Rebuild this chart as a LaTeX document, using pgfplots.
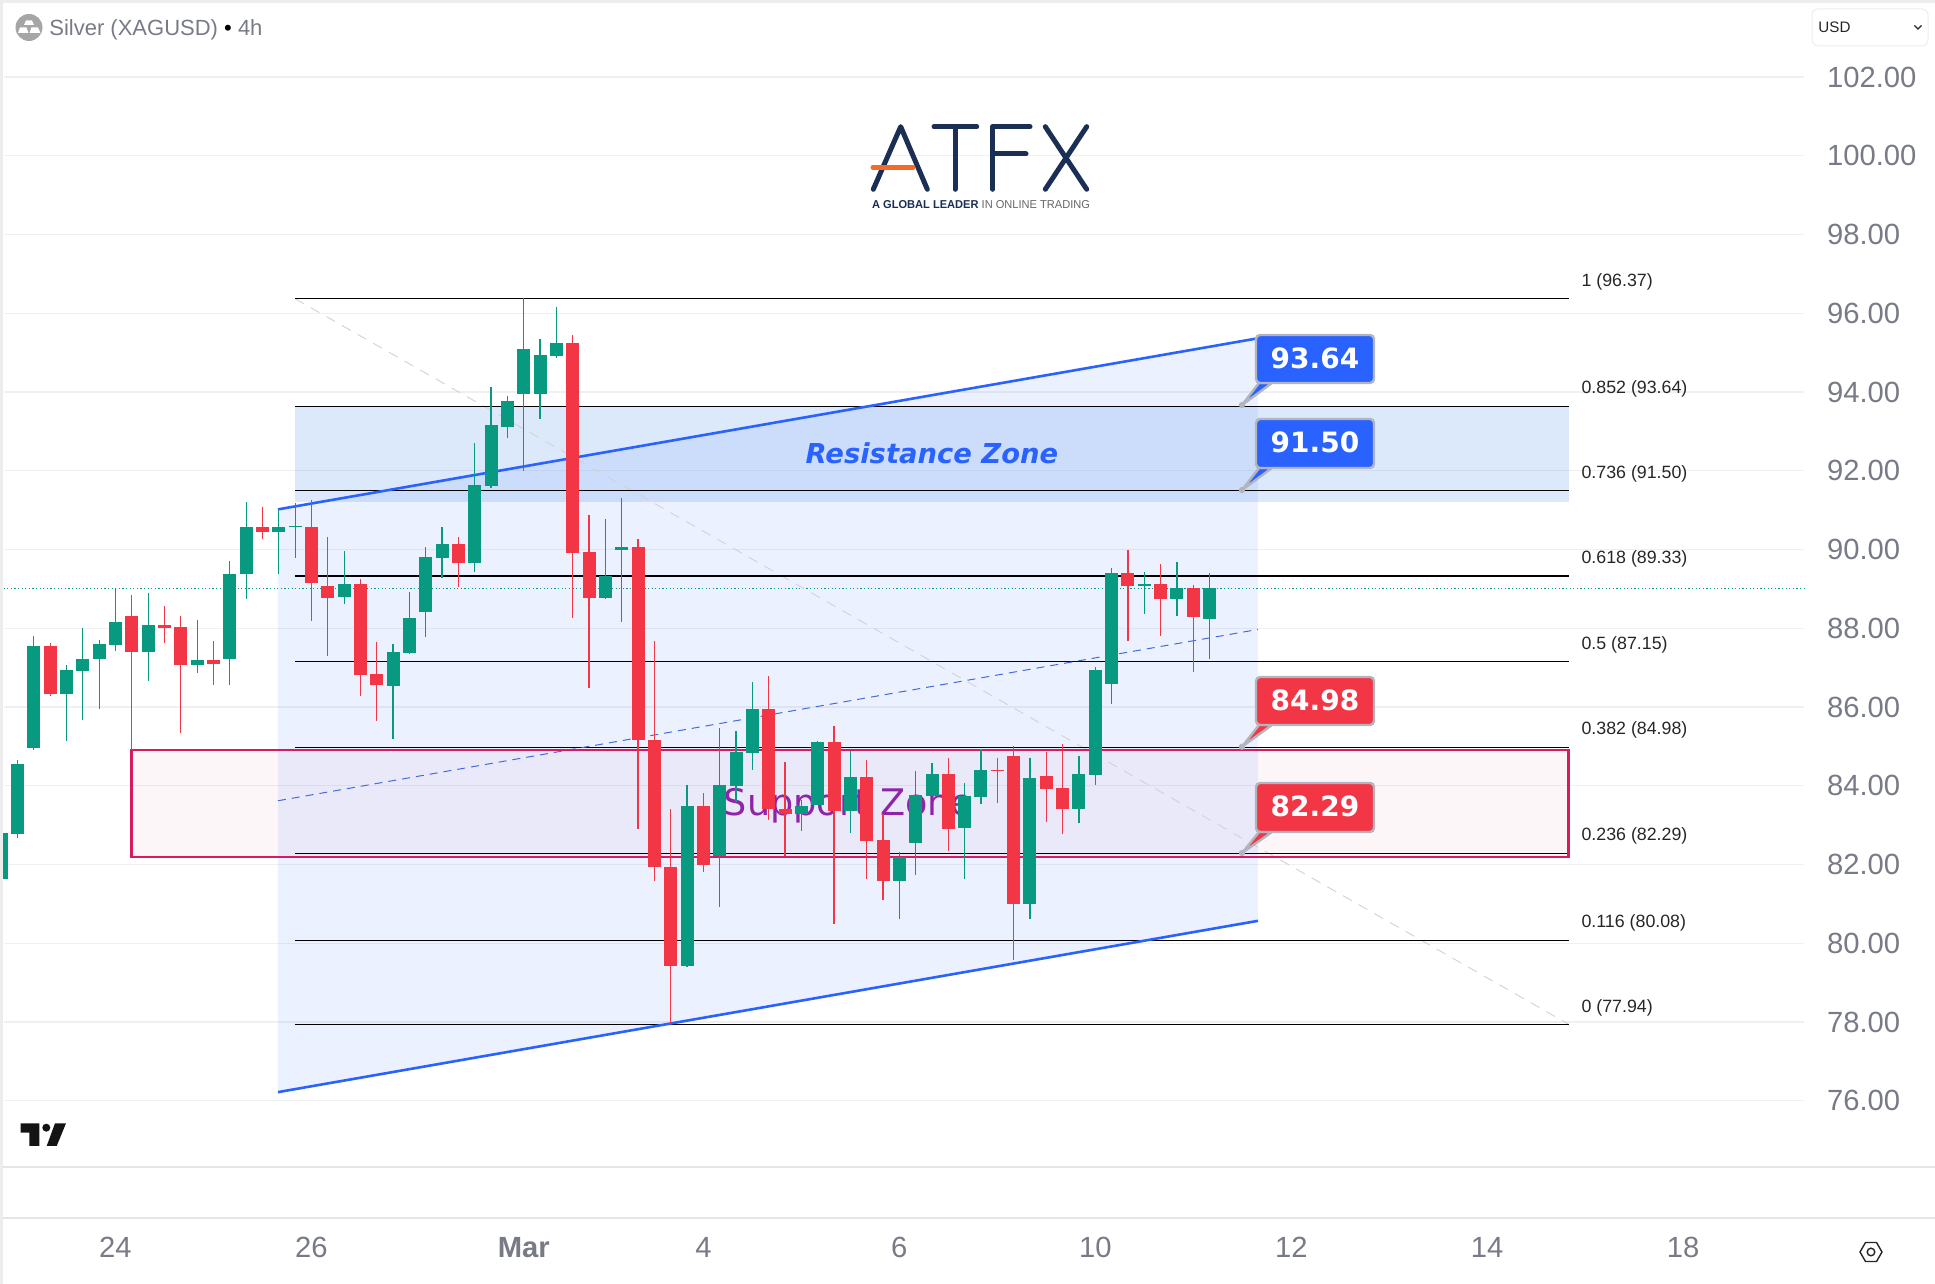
\documentclass[border=0pt]{standalone}
\usepackage{fontspec}
\setmainfont{Liberation Sans}
\newfontfamily\djv{DejaVu Sans}
\usepackage{pgfplots}
\usepackage{pgfplotstable}
\pgfplotsset{compat=1.18}
\definecolor{cgreen}{HTML}{089981}
\definecolor{cred}{HTML}{F23645}
\definecolor{cblue}{HTML}{2962FF}
\definecolor{gridc}{HTML}{F0F0F2}
\definecolor{tickgray}{HTML}{787B86}
\definecolor{calgray}{HTML}{B2B5BE}
\definecolor{navy}{HTML}{1B2F55}
\definecolor{pinkb}{HTML}{D81B60}
\definecolor{purp}{HTML}{8E24AA}
\pgfplotstableread{
i  wh    wl    bt    bb
-1 82.85 81.55 82.80 81.64
0  84.65 82.68 84.55 82.78
1  87.80 84.91 87.55 84.97
3  87.06 85.15 86.94 86.33
4  88.00 85.67 87.22 86.92
5  87.70 85.96 87.60 87.22
6  89.01 87.42 88.16 87.58
8  88.90 86.67 88.08 87.40
11 88.21 86.87 87.19 87.07
13 89.71 86.56 89.38 87.22
14 91.21 88.74 90.57 89.38
16 91.02 89.38 90.57 90.45
17 91.17 89.79 90.59 90.56
20 89.96 88.62 89.12 88.79
23 87.60 85.19 87.40 86.53
24 88.92 87.35 88.26 87.37
25 90.06 87.78 89.81 88.41
26 90.57 89.28 90.14 89.79
28 92.71 89.43 91.64 89.66
29 94.13 91.56 93.16 91.61
30 93.90 92.83 93.77 93.11
31 96.38 91.99 95.09 93.95
32 95.35 93.32 94.94 93.95
33 96.16 94.86 95.25 94.92
36 90.78 88.74 89.33 88.77
37 91.31 88.16 90.06 89.99
41 84.02 79.40 83.49 79.43
43 85.47 80.91 84.02 82.22
44 85.38 83.60 84.86 83.99
45 86.64 84.39 85.95 84.84
48 83.63 82.84 83.49 83.29
49 85.15 83.50 85.11 83.52
51 84.89 82.79 84.23 83.36
54 82.32 80.62 82.20 81.57
55 84.38 81.73 83.77 82.55
56 84.58 83.74 84.30 83.74
58 84.07 81.63 83.74 82.93
59 84.93 83.54 84.40 83.72
62 84.71 80.62 84.20 81.00
65 84.76 83.06 84.30 83.41
66 87.02 84.02 86.94 84.27
67 89.53 86.08 89.40 86.59
69 89.43 88.36 89.12 89.08
71 89.68 88.31 89.02 88.74
73 89.40 87.22 89.02 88.24
}\greentable
\pgfplotstableread{
i  wh    wl    bt    bb
2  87.62 86.28 87.55 86.33
7  88.85 84.90 88.31 87.40
9  88.57 87.63 88.08 88.01
10 88.31 85.35 88.03 87.07
12 87.68 86.56 87.19 87.09
15 91.08 90.27 90.57 90.45
18 91.26 88.19 90.57 89.15
19 90.32 87.30 89.07 88.77
21 89.25 86.28 89.12 86.81
22 87.65 85.65 86.84 86.56
27 90.32 89.05 90.14 89.66
34 95.45 88.26 95.25 89.91
35 90.88 86.48 89.94 88.77
38 90.27 82.91 90.07 85.16
39 87.68 81.59 85.16 81.94
40 83.40 77.94 81.94 79.43
42 83.81 81.82 83.49 81.99
46 86.79 83.14 85.95 83.42
47 84.61 82.22 83.40 83.29
50 85.52 80.48 85.11 83.36
52 84.66 81.64 84.23 82.61
53 83.28 81.11 82.63 81.57
57 84.71 82.34 84.30 82.90
60 84.71 83.56 84.40 84.37
61 85.01 79.58 84.76 81.00
63 84.86 83.08 84.25 83.92
64 85.06 82.78 83.94 83.41
68 89.99 87.68 89.40 89.07
70 89.63 87.80 89.12 88.74
72 89.10 86.89 89.02 88.29
}\redtable
\newcommand\candles[2]{%
 \addplot[draw=none,no markers,forget plot,error bars/.cd,y dir=minus,y explicit,error mark=none,
   error bar style={solid,draw=#2,line width=0.6pt}]
   table[x=i,y=wh,y error minus expr=\thisrow{wh}-\thisrow{wl}]{#1};
 \addplot[draw=none,no markers,forget plot,error bars/.cd,y dir=minus,y explicit,error mark=none,
   error bar style={solid,draw=#2,line width=6.5pt}]
   table[x=i,y=bt,y error minus expr=\thisrow{bt}-\thisrow{bb}]{#1};
}
\newcommand\fiblab[2]{\node[anchor=west,inner sep=0pt,font=\fontsize{8.9}{9}\selectfont,text=black!85] at (axis cs:95.75,#1+0.43) {#2};}
\newcommand\callout[5]{%
 \filldraw[draw=calgray,fill=#3,line width=1.2pt,line join=round] (1259,#2) -- (1272,#2) -- (1242,#5) -- cycle;
 \fill[calgray] (1242,#5) circle (3.2);
 \filldraw[draw=calgray,fill=#3,line width=1.2pt,rounded corners=2pt] (1256,#1) rectangle (1374,#2);
 \node[text=white,inner sep=0pt,font=\djv\bfseries\fontsize{14}{14}\selectfont] at (1315,{(#1+#2)/2-1}) {#4};
}
\begin{document}
\begin{tikzpicture}
\useasboundingbox (0,0) rectangle (967.5pt,642pt);
\begin{axis}[
 at={(0,0)},anchor=south west,scale only axis,width=967.5pt,height=642pt,
 xmin=-1.0716,xmax=117.42,ymin=71.347,ymax=103.957,
 axis x line*=bottom,axis y line*=right,
 axis line style={draw=none},major tick length=0pt,
 ytick={76,78,...,102},
 xtick={6,18,31,42,54,66,78,90,102},
 xticklabels={24,26,\textbf{Mar},4,6,10,12,14,18},
 tick label style={font=\fontsize{14.6}{15}\selectfont,text=tickgray},
 yticklabel style={anchor=west,xshift=-57.5pt,/pgf/number format/.cd,fixed,fixed zerofill,precision=2,assume math mode=true},
 xticklabel style={anchor=center,yshift=18.2pt},
 clip=true,
 unbounded coords=jump,
]
% grid
\addplot[gridc,line width=0.6pt,forget plot] coordinates {
 (-0.8,76)(109.4,76)(0,nan) (-0.8,78)(109.4,78)(0,nan) (-0.8,80)(109.4,80)(0,nan) (-0.8,82)(109.4,82)(0,nan)
 (-0.8,84)(109.4,84)(0,nan) (-0.8,86)(109.4,86)(0,nan) (-0.8,88)(109.4,88)(0,nan) (-0.8,90)(109.4,90)(0,nan)
 (-0.8,92)(109.4,92)(0,nan) (-0.8,94)(109.4,94)(0,nan) (-0.8,96)(109.4,96)(0,nan) (-0.8,98)(109.4,98)(0,nan)
 (-0.8,100)(109.4,100)(0,nan) (-0.8,102)(109.4,102)};
% last price
\addplot[cgreen,line width=0.5pt,dash pattern=on 0.6pt off 1.2pt,forget plot] coordinates {(-1.07,89.02)(109.4,89.02)};
% support box fill
\fill[pinkb,fill opacity=0.04] (axis cs:7,84.91) rectangle (axis cs:95,82.19);
% resistance zone
\fill[fill={rgb,255:red,58;green,134;blue,232},fill opacity=0.18] (axis cs:17,93.64) rectangle (axis cs:95,91.20);
% channel
\fill[fill={rgb,255:red,41;green,100;blue,255},fill opacity=0.09] (axis cs:15.95,91.02) -- (axis cs:75.96,95.365) -- (axis cs:75.96,80.57) -- (axis cs:15.95,76.22) -- cycle;
% fib diagonal
\addplot[gray!35,line width=0.45pt,dash pattern=on 5pt off 4pt,forget plot] coordinates {(17,96.37)(95,77.94)};
% fib levels
\addplot[black,line width=0.6pt,forget plot] coordinates {
 (17,96.37)(95,96.37)(0,nan) (17,93.64)(95,93.64)(0,nan) (17,91.50)(95,91.50)(0,nan) (17,89.33)(95,89.33)(0,nan)
 (17,87.15)(95,87.15)(0,nan) (17,84.98)(95,84.98)(0,nan) (17,82.29)(95,82.29)(0,nan) (17,80.08)(95,80.08)(0,nan)
 (17,77.94)(95,77.94)};
% channel lines
\addplot[cblue,line width=1.3pt,forget plot] coordinates {(15.95,91.02)(75.96,95.365)};
\addplot[cblue,line width=1.3pt,forget plot] coordinates {(15.95,76.22)(75.96,80.57)};
\addplot[cblue!70!gray,line width=0.5pt,dash pattern=on 4pt off 3pt,forget plot] coordinates {(15.95,83.62)(75.96,87.97)};
% support border
\draw[pinkb,line width=1.4pt] (axis cs:7,84.91) rectangle (axis cs:95,82.19);
% zone texts
\node[text=cblue,font=\djv\bfseries\itshape\fontsize{13.7}{14}\selectfont,inner sep=0pt] at (axis cs:56,92.44) {Resistance Zone};
\node[text=purp,font=\djv\fontsize{18.3}{19}\selectfont,inner sep=0pt] at (axis cs:50.9,83.5) {Support Zone};
% candles
\candles{\greentable}{cgreen}
\candles{\redtable}{cred}
% fib labels
\fiblab{96.37}{1 (96.37)}
\fiblab{93.64}{0.852 (93.64)}
\fiblab{91.50}{0.736 (91.50)}
\fiblab{89.33}{0.618 (89.33)}
\fiblab{87.15}{0.5 (87.15)}
\fiblab{84.98}{0.382 (84.98)}
\fiblab{82.29}{0.236 (82.29)}
\fiblab{80.08}{0.116 (80.08)}
\fiblab{77.94}{0 (77.94)}
\end{axis}
\begin{scope}[x=0.5pt,y=-0.5pt,shift={(0,-1284)}]
% frame strips
\fill[black!7] (0,0) rectangle (1935,3);
\fill[black!7] (0,0) rectangle (3,1284);
\fill[black!10] (3,1166) rectangle (1935,1168);
\fill[black!10] (3,1217.5) rectangle (1935,1218.7);
% callouts
\callout{335}{383}{cblue}{93.64}{405}
\callout{419}{468}{cblue}{91.50}{490}
\callout{677}{725}{cred}{84.98}{746.7}
\callout{783}{832}{cred}{82.29}{853}
% title
\fill[black!35] (29,27.5) circle (13.5);
\fill[white] (26,20.5) -- (32,20.5) -- (34,25) -- (24,25) -- cycle;
\fill[white] (20,27.5) -- (26.5,27.5) -- (28.5,33) -- (18,33) -- cycle;
\fill[white] (31.5,27.5) -- (38,27.5) -- (40.5,33) -- (29.5,33) -- cycle;
\node[anchor=west,inner sep=0pt,text=tickgray,font=\fontsize{11}{12}\selectfont] at (49,29.5) {Silver (XAGUSD) \textcolor{black}{•} 4h};
% USD box
\draw[black!7,line width=0.5pt,rounded corners=3pt] (1812,9) rectangle (1928,46);
\node[anchor=west,inner sep=0pt,text=black!85,font=\fontsize{7.6}{8}\selectfont] at (1818,27.5) {USD};
\draw[black!85,line width=0.6pt] (1914.5,25.5) -- (1918,29) -- (1921.5,25.5);
% logo
\begin{scope}[navy,line width=2.5pt,line cap=round,line join=round]
\draw (873.3,189.3) -- (900.7,126.7) -- (927.3,189.3);
\draw (934,126.7) -- (976.7,126.7);
\draw (955,126.7) -- (955,189.3);
\draw (992.7,189.3) -- (992.7,126.7) -- (1030,126.7);
\draw (992.7,154) -- (1026,154);
\draw (1045.3,126.7) -- (1086.7,189.3);
\draw (1086.7,126.7) -- (1045.3,189.3);
\end{scope}
\draw[color={rgb,255:red,242;green,107;blue,43},line width=2.5pt,line cap=round] (873,167.3) -- (913,167.3);
\node[anchor=west,inner sep=0pt] at (871.7,204.3) {\resizebox{109pt}{4pt}{\textcolor{navy}{\textbf{A GLOBAL LEADER}} \textcolor{black!60}{IN ONLINE TRADING}}};
% TV logo
\fill[black!92] (20.7,1123.3) -- (39.3,1123.3) -- (39.3,1146) -- (29.3,1146) -- (29.3,1132.7) -- (20.7,1132.7) -- cycle;
\fill[black!92] (46.3,1127.7) circle (4);
\fill[black!92] (55,1123.3) -- (66,1123.3) -- (56.7,1146) -- (46.7,1146) -- cycle;
% gear
\draw[black!85,line width=0.7pt] (1860,1252) -- (1865.5,1242.5) -- (1876.5,1242.5) -- (1882,1252) -- (1876.5,1261.5) -- (1865.5,1261.5) -- cycle;
\draw[black!85,line width=0.7pt] (1871,1252) circle (3.8);
\end{scope}
\end{tikzpicture}
\end{document}
